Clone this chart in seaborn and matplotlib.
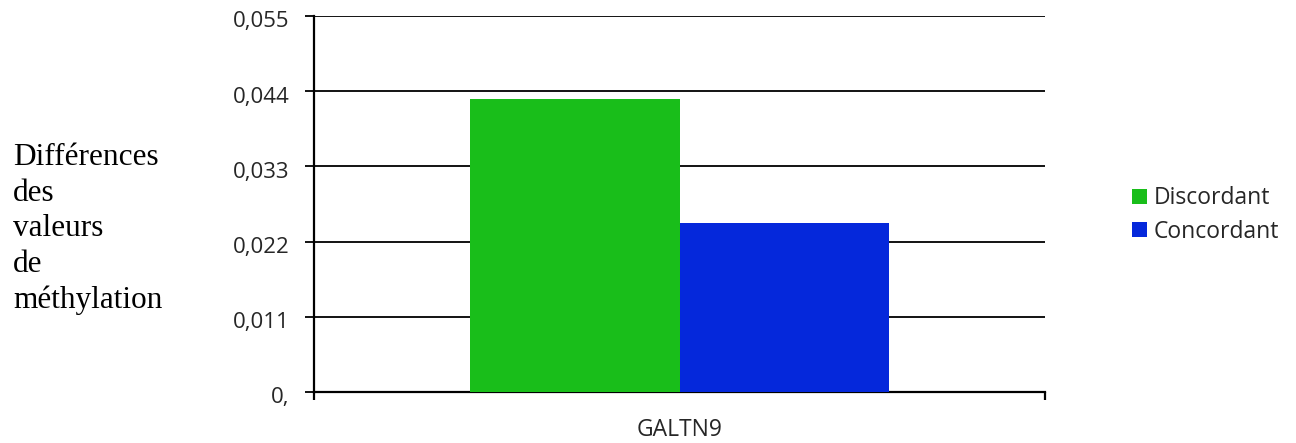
import matplotlib
matplotlib.use("Agg")
import matplotlib.pyplot as plt
import matplotlib.transforms as mtransforms
import seaborn as sns
import pandas as pd
from matplotlib.ticker import FixedLocator, FuncFormatter

# Data
genes = ["GALTN9", "GALTN9"]
groups = ["Discordant", "Concordant"]
values = [0.0429, 0.0247]
y_ticks = [0.0, 0.011, 0.022, 0.033, 0.044, 0.055]
tick_labels = ["0,", "0,011", "0,022", "0,033", "0,044", "0,055"]
palette = {"Discordant": "#19be1a", "Concordant": "#0528db"}

df = pd.DataFrame({"gene": genes, "group": groups, "value": values})

sns.set_theme(style="white")
plt.rcParams["font.family"] = ["Open Sans", "DejaVu Sans"]

fig = plt.figure(figsize=(12.96, 4.43), dpi=100)
ax = fig.add_axes([314 / 1296, 1 - 392 / 443, (1045 - 314) / 1296, (392 - 16) / 443])

sns.barplot(data=df, x="gene", y="value", hue="group", palette=palette,
            width=0.572, saturation=1, linewidth=0, ax=ax, legend=True, zorder=3)

ax.set_xlim(-0.5, 0.5)
ax.set_ylim(0, 0.055)
ax.yaxis.set_major_locator(FixedLocator(y_ticks))
ax.yaxis.set_major_formatter(FuncFormatter(lambda v, i: tick_labels[y_ticks.index(round(v, 3))]))

# Horizontal gridlines behind the bars
ax.grid(axis="y", color="black", linewidth=1.3, zorder=0)
ax.set_axisbelow(True)

for side in ("right", "top"):
    ax.spines[side].set_visible(False)
for side in ("left", "bottom"):
    ax.spines[side].set_color("black")
    ax.spines[side].set_linewidth(1.6)

ax.tick_params(axis="y", which="major", left=True, length=6.5, width=1.3,
               color="black", direction="out", labelsize=16, pad=11)
ax.tick_params(axis="x", which="major", bottom=False, labelsize=16.5, pad=13)
ax.xaxis.set_minor_locator(FixedLocator([-0.5, 0.5]))
ax.tick_params(axis="x", which="minor", bottom=True, length=6, width=1.6,
               color="black", direction="out")

# Value labels sit slightly below their gridline
shift = mtransforms.ScaledTranslation(0, -3.5 / 100, fig.dpi_scale_trans)
for lbl in ax.get_yticklabels():
    lbl.set_transform(lbl.get_transform() + shift)

ax.set_xlabel("")
ax.set_ylabel("")

fig.text(13 / 1296, 1 - 229 / 443,
         "Différences\ndes\nvaleurs\nde\nméthylation",
         family="Liberation Serif", fontsize=22.5, ha="left", va="center",
         linespacing=1.3, color="black")

handles, labels = ax.get_legend_handles_labels()
ax.legend(handles, labels, loc="center left",
          bbox_to_anchor=(1114 / 1296, 1 - 215 / 443),
          bbox_transform=fig.transFigure, frameon=False, fontsize=16.5,
          handlelength=0.65, handleheight=0.65, handletextpad=0.3,
          labelspacing=0.4, borderpad=0.3)

fig.savefig("out.png", dpi=100)
